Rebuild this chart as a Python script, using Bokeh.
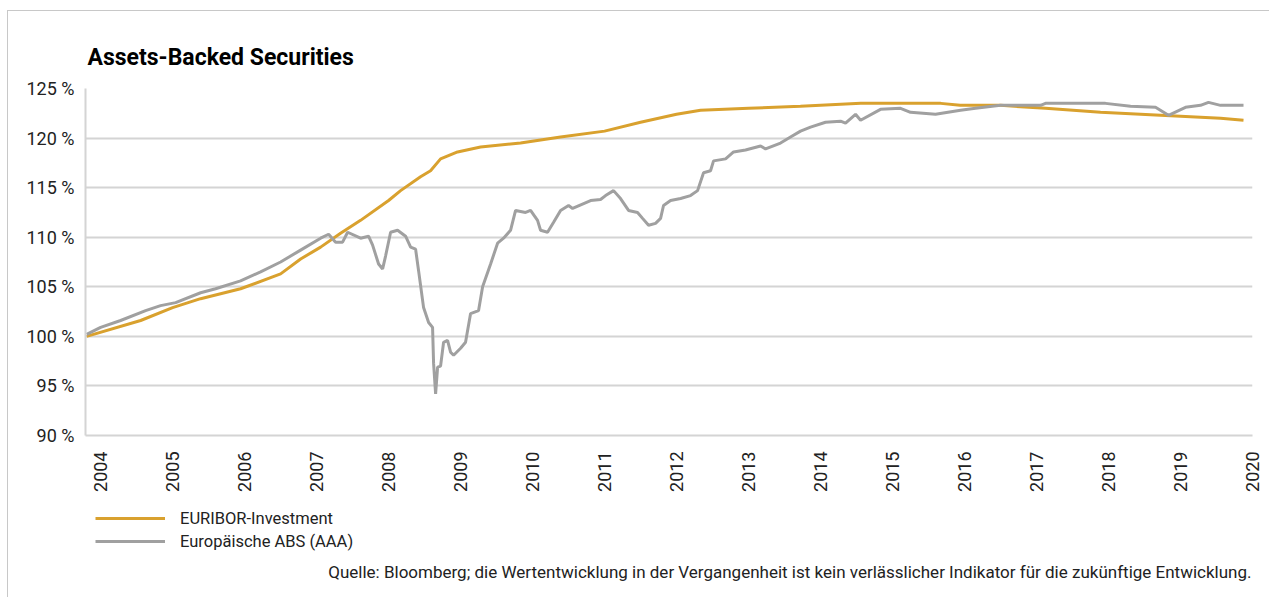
from bokeh.plotting import figure
from bokeh.layouts import column
from bokeh.models import (Range1d, FixedTicker, PrintfTickFormatter, Legend, LegendItem, Label, LinearAxis)
from bokeh.embed import file_html
from bokeh.resources import INLINE
import math

# ---- data (fractional year, index level in %) ----
euribor_t = [2003.806, 2004.556, 2005.0, 2005.389, 2005.944, 2006.5, 2006.778, 2007.056,
             2007.333, 2007.611, 2008.0, 2008.167, 2008.444, 2008.583, 2008.722, 2008.958,
             2009.278, 2009.833, 2010.389, 2011.0, 2011.5, 2012.0, 2012.333, 2013.0,
             2013.72, 2014.56, 2015.67, 2015.94, 2016.5, 2017.125, 2017.889, 2018.722,
             2019.556, 2019.875]
euribor_v = [100.0, 101.6, 102.9, 103.8, 104.8, 106.3, 107.8, 109.0,
             110.4, 111.7, 113.7, 114.7, 116.1, 116.7, 117.9, 118.6,
             119.1, 119.5, 120.1, 120.7, 121.6, 122.4, 122.8, 123.0,
             123.2, 123.5, 123.5, 123.3, 123.3, 123.0, 122.6, 122.3,
             122.0, 121.8]

abs_t = [2003.806, 2004.0, 2004.278, 2004.625, 2004.833, 2005.042, 2005.389, 2005.597,
         2005.944, 2006.222, 2006.5, 2006.778, 2007.056, 2007.167, 2007.264, 2007.361,
         2007.431, 2007.611, 2007.722, 2007.778, 2007.861, 2007.917, 2007.958, 2008.028,
         2008.125, 2008.236, 2008.306, 2008.375, 2008.417, 2008.486, 2008.556, 2008.611,
         2008.625, 2008.653, 2008.681, 2008.722, 2008.764, 2008.819, 2008.861, 2008.903,
         2009.0, 2009.069, 2009.139, 2009.25, 2009.306, 2009.417, 2009.514, 2009.597,
         2009.694, 2009.764, 2009.903, 2009.972, 2010.069, 2010.111, 2010.208, 2010.292,
         2010.389, 2010.5, 2010.556, 2010.806, 2010.944, 2011.014, 2011.125, 2011.222,
         2011.333, 2011.458, 2011.528, 2011.611, 2011.708, 2011.778, 2011.819, 2011.917,
         2012.056, 2012.194, 2012.292, 2012.375, 2012.472, 2012.514, 2012.681, 2012.792,
         2012.958, 2013.167, 2013.236, 2013.444, 2013.583, 2013.722, 2013.861, 2014.069,
         2014.278, 2014.347, 2014.486, 2014.556, 2014.833, 2015.111, 2015.25, 2015.597,
         2015.944, 2016.153, 2016.5, 2017.056, 2017.125, 2017.958, 2018.306, 2018.653,
         2018.833, 2019.069, 2019.278, 2019.389, 2019.556, 2019.875]
abs_v = [100.2, 100.9, 101.6, 102.6, 103.1, 103.4, 104.4, 104.8,
         105.6, 106.5, 107.5, 108.7, 109.9, 110.3, 109.5, 109.5,
         110.5, 109.9, 110.1, 109.2, 107.3, 106.8, 108.1, 110.5,
         110.7, 110.1, 109.0, 108.8, 106.6, 102.9, 101.4, 100.9,
         97.3, 94.2, 96.9, 97.0, 99.4, 99.6, 98.4, 98.1,
         98.8, 99.4, 102.3, 102.6, 105.0, 107.3, 109.4, 109.9,
         110.7, 112.7, 112.5, 112.7, 111.7, 110.7, 110.5, 111.5,
         112.7, 113.2, 112.9, 113.7, 113.8, 114.2, 114.7, 113.9,
         112.7, 112.5, 111.9, 111.2, 111.4, 111.9, 113.2, 113.7,
         113.9, 114.2, 114.7, 116.5, 116.7, 117.7, 117.9, 118.6,
         118.8, 119.2, 118.9, 119.5, 120.1, 120.7, 121.1, 121.6,
         121.7, 121.5, 122.4, 121.8, 122.9, 123.0, 122.6, 122.4,
         122.8, 123.0, 123.3, 123.3, 123.5, 123.5, 123.2, 123.1,
         122.3, 123.1, 123.3, 123.6, 123.3, 123.3]

year_ticks = list(range(2004, 2021))
pct_ticks = [90, 95, 100, 105, 110, 115, 120, 125]

series_names = ["EURIBOR-Investment", "Europäische ABS (AAA)"]
title_text = "Assets-Backed Securities"
source_text = ("Quelle: Bloomberg; die Wertentwicklung in der Vergangenheit ist kein "
               "verlässlicher Indikator für die zukünftige Entwicklung.")

FONT = "Roboto"
ORANGE = "#D9A12E"
GREY = "#A0A0A0"
GRID = "#D4D4D4"
TXT = "#222222"

p = figure(frame_width=1167, frame_height=347, output_backend="svg", toolbar_location=None,
           x_range=Range1d(2003.79, 2020.0), y_range=Range1d(90, 125),
           min_border_left=77, min_border_right=17, min_border_top=77, min_border_bottom=70,
           x_axis_location=None)
p.outline_line_color = None

# title
p.title.text = title_text
p.title.text_font = FONT
p.title.text_font_size = "23px"
p.title.text_font_style = "bold"
p.title.text_color = "#000000"
p.title.align = "left"
p.title.offset = 2
p.title.standoff = 36

# grid
p.xgrid.visible = False
p.ygrid.ticker = FixedTicker(ticks=pct_ticks)
p.ygrid.grid_line_color = GRID
p.ygrid.grid_line_width = 2

# y axis
ya = p.yaxis[0]
ya.ticker = FixedTicker(ticks=pct_ticks)
ya.formatter = PrintfTickFormatter(format="%d %%")
ya.major_tick_line_color = None
ya.minor_tick_line_color = None
ya.axis_line_color = GRID
ya.axis_line_width = 2
ya.major_label_standoff = 5
ya.major_label_text_font = FONT
ya.major_label_text_font_size = "18px"
ya.major_label_text_color = TXT

# lines
r1 = p.line(euribor_t, euribor_v, line_color=ORANGE, line_width=3)
r2 = p.line(abs_t, abs_v, line_color=GREY, line_width=3)

# x axis (below)
xa = LinearAxis(ticker=FixedTicker(ticks=year_ticks), formatter=PrintfTickFormatter(format="%d"))
xa.major_tick_line_color = None
xa.minor_tick_line_color = None
xa.axis_line_color = GRID
xa.axis_line_width = 2
xa.major_label_orientation = math.pi / 2
xa.major_label_standoff = 10
xa.major_label_text_font = FONT
xa.major_label_text_font_size = "18px"
xa.major_label_text_color = TXT
p.add_layout(xa, "below")

# ---- footer figure: legend + source (frame is aligned with the main frame) ----
p2 = figure(width=1261, height=92, output_backend="svg", toolbar_location=None,
            x_range=Range1d(0, 1), y_range=Range1d(0, 1),
            min_border_left=0, min_border_right=0, min_border_top=0, min_border_bottom=0)
p2.axis.visible = False
p2.grid.visible = False
p2.outline_line_color = None
# same series, out of this footer's view: only used for the legend swatches
d1 = p2.line(euribor_t, euribor_v, line_color=ORANGE, line_width=3)
d2 = p2.line(abs_t, abs_v, line_color=GREY, line_width=3)

legend = Legend(items=[LegendItem(label=series_names[0], renderers=[d1]),
                       LegendItem(label=series_names[1], renderers=[d2])],
                location=(10, 46), orientation="vertical",
                glyph_width=70, glyph_height=20, label_height=20, label_standoff=15,
                spacing=3, padding=0, margin=0,
                label_text_font=FONT, label_text_font_size="16.5px", label_text_color=TXT,
                border_line_color=None, background_fill_alpha=0)
p2.add_layout(legend)

src = Label(x=1166, y=26, x_units="screen", y_units="screen", text=source_text,
            text_align="right", text_baseline="middle", text_font=FONT,
            text_font_size="17px", text_color=TXT)
p2.add_layout(src)

layout = column(p, p2, spacing=0)
layout.styles = {"margin-left": "7px", "margin-top": "10px",
                 "border-left": "1px solid #C8C8C8", "border-top": "1px solid #C8C8C8"}

open("out.html", "w").write(file_html(layout, INLINE))
